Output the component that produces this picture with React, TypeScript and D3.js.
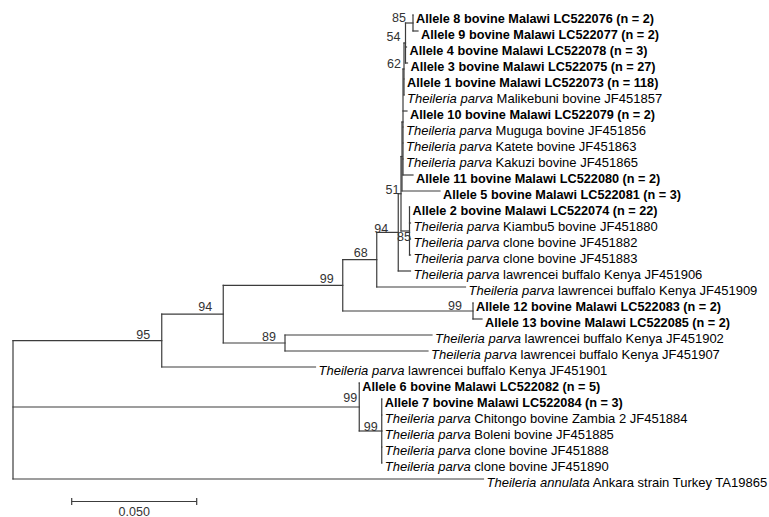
import { hierarchy, scaleLinear, HierarchyNode } from 'd3'
import { useMemo } from 'react'

// leaves from top to bottom; species is drawn in italics, bold rows are the Malawi alleles
const leaves = [
  { id: 'A8', species: '', text: 'Allele 8 bovine Malawi LC522076 (n = 2)', bold: true, length: 0 },
  { id: 'A9', species: '', text: 'Allele 9 bovine Malawi LC522077 (n = 2)', bold: true, length: 0.002 },
  { id: 'A4', species: '', text: 'Allele 4 bovine Malawi LC522078 (n = 3)', bold: true, length: 0.0004 },
  { id: 'A3', species: '', text: 'Allele 3 bovine Malawi LC522075 (n = 27)', bold: true, length: 0.0008 },
  { id: 'A1', species: '', text: 'Allele 1 bovine Malawi LC522073 (n = 118)', bold: true, length: 0 },
  { id: 'JF451857', species: 'Theileria parva', text: 'Malikebuni bovine JF451857', bold: false, length: 0 },
  { id: 'A10', species: '', text: 'Allele 10 bovine Malawi LC522079 (n = 2)', bold: true, length: 0.0016 },
  { id: 'JF451856', species: 'Theileria parva', text: 'Muguga bovine JF451856', bold: false, length: 0 },
  { id: 'JF451863', species: 'Theileria parva', text: 'Katete bovine JF451863', bold: false, length: 0 },
  { id: 'JF451865', species: 'Theileria parva', text: 'Kakuzi bovine JF451865', bold: false, length: 0 },
  { id: 'A11', species: '', text: 'Allele 11 bovine Malawi LC522080 (n = 2)', bold: true, length: 0.004 },
  { id: 'A5', species: '', text: 'Allele 5 bovine Malawi LC522081 (n = 3)', bold: true, length: 0.0152 },
  { id: 'A2', species: '', text: 'Allele 2 bovine Malawi LC522074 (n = 22)', bold: true, length: 0 },
  { id: 'JF451880', species: 'Theileria parva', text: 'Kiambu5 bovine JF451880', bold: false, length: 0.0004 },
  { id: 'JF451882', species: 'Theileria parva', text: 'clone bovine JF451882', bold: false, length: 0.0004 },
  { id: 'JF451883', species: 'Theileria parva', text: 'clone bovine JF451883', bold: false, length: 0.0004 },
  { id: 'JF451906', species: 'Theileria parva', text: 'lawrencei buffalo Kenya JF451906', bold: false, length: 0.0049 },
  { id: 'JF451909', species: 'Theileria parva', text: 'lawrencei buffalo Kenya JF451909', bold: false, length: 0.0355 },
  { id: 'A12', species: '', text: 'Allele 12 bovine Malawi LC522083 (n = 2)', bold: true, length: 0 },
  { id: 'A13', species: '', text: 'Allele 13 bovine Malawi LC522085 (n = 2)', bold: true, length: 0.0036 },
  { id: 'JF451902', species: 'Theileria parva', text: 'lawrencei buffalo Kenya JF451902', bold: false, length: 0.0588 },
  { id: 'JF451907', species: 'Theileria parva', text: 'lawrencei buffalo Kenya JF451907', bold: false, length: 0.0572 },
  { id: 'JF451901', species: 'Theileria parva', text: 'lawrencei buffalo Kenya JF451901', bold: false, length: 0.0615 },
  { id: 'A6', species: '', text: 'Allele 6 bovine Malawi LC522082 (n = 5)', bold: true, length: 0 },
  { id: 'A7', species: '', text: 'Allele 7 bovine Malawi LC522084 (n = 3)', bold: true, length: 0 },
  { id: 'JF451884', species: 'Theileria parva', text: 'Chitongo bovine Zambia 2 JF451884', bold: false, length: 0 },
  { id: 'JF451885', species: 'Theileria parva', text: 'Boleni bovine JF451885', bold: false, length: 0 },
  { id: 'JF451888', species: 'Theileria parva', text: 'clone bovine JF451888', bold: false, length: 0 },
  { id: 'JF451890', species: 'Theileria parva', text: 'clone bovine JF451890', bold: false, length: 0 },
  { id: 'TA19865', species: 'Theileria annulata', text: 'Ankara strain Turkey TA19865', bold: false, length: 0.1882 },
]

// internal nodes: children in drawing order, branch length, bootstrap support
const clades = [
  { id: 'root', children: ['N95', 'N99a', 'TA19865'], length: 0, support: null },
  { id: 'N95', children: ['N94a', 'JF451901'], length: 0.0595, support: 95 },
  { id: 'N94a', children: ['N99', 'N89'], length: 0.0246, support: 94 },
  { id: 'N99', children: ['N68', 'N1213'], length: 0.0478, support: 99 },
  { id: 'N68', children: ['N94', 'JF451909'], length: 0.0136, support: 68 },
  { id: 'N94', children: ['N51', 'JF451906'], length: 0.0086, support: 94 },
  { id: 'N51', children: ['Y', 'N85b'], length: 0.0011, support: 51 },
  { id: 'Y', children: ['X', 'A5'], length: 0.0004, support: null },
  { id: 'X', children: ['N62', 'A10', 'JF451856', 'JF451863', 'JF451865', 'A11'], length: 0.0004, support: null },
  { id: 'N62', children: ['N54', 'A1', 'JF451857'], length: 0.0004, support: 62 },
  { id: 'N54', children: ['N85', 'A4', 'A3'], length: 0.0006, support: 54 },
  { id: 'N85', children: ['A8', 'A9'], length: 0.003, support: 85 },
  { id: 'N85b', children: ['A2', 'JF451880', 'JF451882', 'JF451883'], length: 0.0034, support: 85 },
  { id: 'N1213', children: ['A12', 'A13'], length: 0.0521, support: 99 },
  { id: 'N89', children: ['JF451902', 'JF451907'], length: 0.0247, support: 89 },
  { id: 'N99a', children: ['A6', 'N99b'], length: 0.1385, support: 99 },
  { id: 'N99b', children: ['A7', 'JF451884', 'JF451885', 'JF451888', 'JF451890'], length: 0.009, support: 99 },
]

const scaleBarValue = 0.05
const scaleBarLabel = '0.050'

interface TreeDatum {
  id: string
  length: number
  support: number | null
  leaf?: (typeof leaves)[number]
  children?: TreeDatum[]
}

type PosNode = HierarchyNode<TreeDatum> & { px: number; py: number; dist: number }

const width = 769
const height = 517
const lineColor = '#3c3c3c'
const font = 'Arial, "Liberation Sans", sans-serif'

// where a support value sits relative to its node (dx, dy); MEGA shifts a few to dodge crowding
const defaultLabelShift: [number, number] = [-9, -2.5]
const labelShift: Record<string, [number, number]> = {
  N99a: [-2, -5],
  N99b: [-4, -0.5],
  N51: [-1.5, 0],
  N62: [-3, -1],
  N54: [-5, -2],
  N85: [-7, -1.5],
  N85b: [1.5, 10],
  N94: [-10, 0.5],
  N1213: [-11, -1.5],
  N95: [-11.5, -2],
  N94a: [-11, -3],
}

function buildTree(): TreeDatum {
  const byId = new Map<string, TreeDatum>()
  leaves.forEach((l) => byId.set(l.id, { id: l.id, length: l.length, support: null, leaf: l }))
  clades.forEach((c) => byId.set(c.id, { id: c.id, length: c.length, support: c.support, children: [] }))
  clades.forEach((c) => {
    byId.get(c.id)!.children = c.children.map((k) => byId.get(k)!)
  })
  return byId.get('root')!
}

export default function App() {
  const nodes = useMemo(() => {
    const root = hierarchy(buildTree(), (d) => d.children) as PosNode
    const x = scaleLinear().domain([0, scaleBarValue]).range([13, 138])
    const y = scaleLinear().domain([0, leaves.length - 1]).range([15, 479])

    root.eachBefore((n) => {
      const p = n as PosNode
      p.dist = (p.parent ? (p.parent as PosNode).dist : 0) + p.data.length
      p.px = x(p.dist)
    })
    root.leaves().forEach((l, i) => {
      ;(l as PosNode).py = y(i)
    })
    root.eachAfter((n) => {
      const p = n as PosNode
      if (p.children) {
        const first = p.children[0] as PosNode
        const last = p.children[p.children.length - 1] as PosNode
        p.py = (first.py + last.py) / 2
      }
    })
    return { all: root.descendants() as PosNode[], x }
  }, [])

  const barX0 = 71.7
  const barX1 = barX0 + (nodes.x(scaleBarValue) - nodes.x(0))
  const barY = 501.5

  return (
    <div style={{ position: 'absolute', left: 0, top: 0 }}>
      <svg width={width} height={height} style={{ display: 'block', background: '#fff' }}>
        <g stroke={lineColor} strokeWidth={1.2} fill="none" strokeLinecap="square">
          {nodes.all.map((n) => {
            const parent = n.parent as PosNode | null
            return (
              <g key={n.data.id}>
                {parent && <line x1={parent.px} x2={n.px} y1={n.py} y2={n.py} />}
                {n.children && (
                  <line
                    x1={n.px}
                    x2={n.px}
                    y1={(n.children[0] as PosNode).py}
                    y2={(n.children[n.children.length - 1] as PosNode).py}
                  />
                )}
              </g>
            )
          })}
        </g>

        <g fontFamily={font} fill="#000">
          {nodes.all
            .filter((n) => n.data.leaf)
            .map((n) => {
              const leaf = n.data.leaf!
              return (
                <text
                  key={n.data.id}
                  x={n.px + 3}
                  y={n.py + 8}
                  fontSize={leaf.bold ? 12.7 : 13}
                  fontWeight={leaf.bold ? 'bold' : 'normal'}
                >
                  {leaf.species && <tspan fontStyle="italic">{leaf.species}</tspan>}
                  {leaf.species ? ' ' + leaf.text : leaf.text}
                </text>
              )
            })}
        </g>

        <g fontFamily={font} fill="#333" fontSize={12.5} textAnchor="end">
          {nodes.all
            .filter((n) => n.data.support !== null)
            .map((n) => {
              const [dx, dy] = labelShift[n.data.id] ?? defaultLabelShift
              return (
                <text key={n.data.id} x={n.px + dx} y={n.py + dy}>
                  {n.data.support}
                </text>
              )
            })}
        </g>

        <g stroke={lineColor} strokeWidth={1.2}>
          <line x1={barX0} x2={barX1} y1={barY} y2={barY} />
          <line x1={barX0} x2={barX0} y1={barY - 3.5} y2={barY + 3.5} />
          <line x1={barX1} x2={barX1} y1={barY - 3.5} y2={barY + 3.5} />
        </g>
        <text
          x={(barX0 + barX1) / 2}
          y={barY + 14}
          textAnchor="middle"
          fontFamily={font}
          fontSize={12.5}
          fill="#333"
        >
          {scaleBarLabel}
        </text>
      </svg>
    </div>
  )
}
